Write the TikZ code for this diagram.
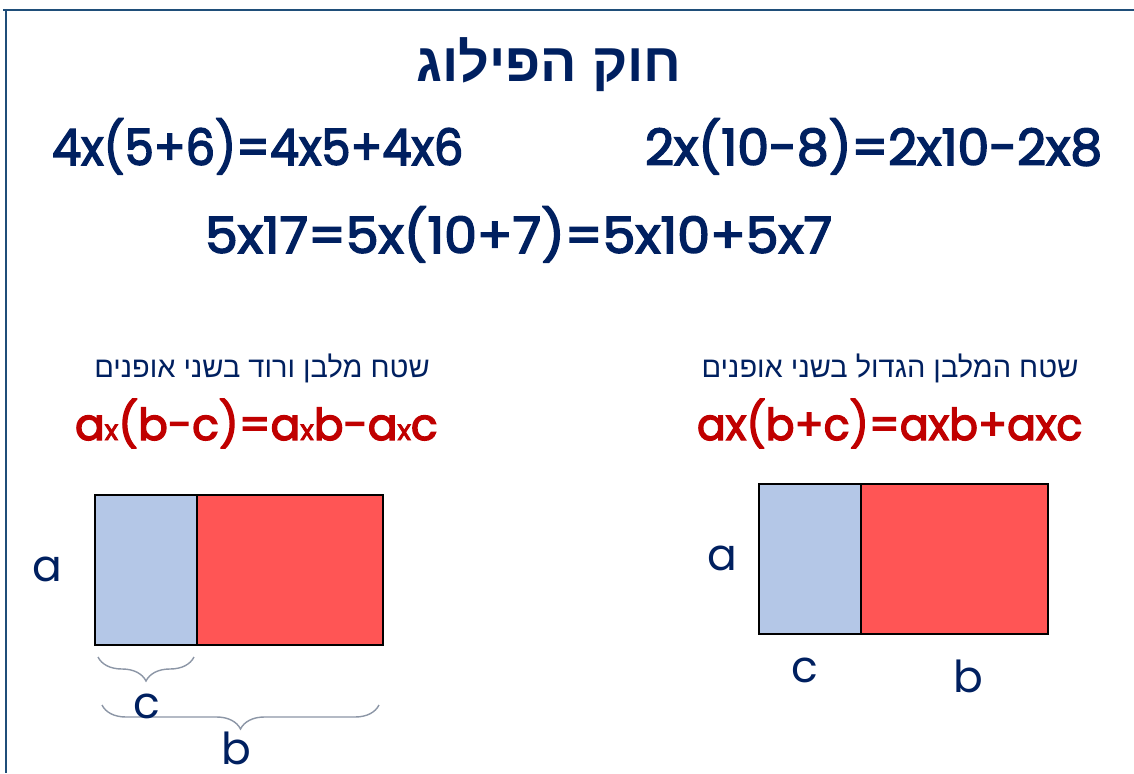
\documentclass[tikz,border=0pt]{standalone}
\usepackage{fontspec}
\setmainfont{Poppins}
\newfontfamily\eqfont[FakeBold=3]{Poppins}
\newfontfamily\hebfont[Script=Hebrew]{Liberation Sans}
\TeXXeTstate=1
\usetikzlibrary{decorations.pathreplacing}
\definecolor{navy}{RGB}{0,32,96}
\definecolor{dred}{RGB}{192,0,0}
\definecolor{framec}{RGB}{31,78,121}
\definecolor{lblue}{RGB}{180,199,231}
\definecolor{lred}{RGB}{255,85,85}
\definecolor{bracegray}{RGB}{140,150,166}
\newcommand{\sx}{{\fontsize{28}{30}\selectfont x}}
\begin{document}
\begin{tikzpicture}[x=1pt,y=-1pt,
  txt/.style={inner sep=0pt, outer sep=0pt},
  title/.style={txt, text=navy, font=\hebfont\bfseries\fontsize{54}{60}\selectfont},
  eq/.style={txt, text=navy, font=\eqfont\fontsize{50}{60}\selectfont},
  sub/.style={txt, text=navy, font=\hebfont\fontsize{29}{34}\selectfont},
  redeq/.style={txt, text=dred, font=\eqfont\fontsize{44}{50}\selectfont},
  lbl/.style={txt, text=navy, font=\fontsize{44}{50}\selectfont},
  boxc/.style={draw=black, line width=2pt, fill=lblue},
  boxb/.style={draw=black, line width=2pt, fill=lred},
  brc/.style={draw=bracegray, line width=1.4pt, decorate, decoration={brace, mirror, amplitude=24pt, aspect=0.5}},
  framel/.style={draw=framec, line width=2.5pt}
]
\useasboundingbox (0,0) rectangle (1134,773);
\fill[white] (0,0) rectangle (1134,773);
\draw[framel] (3,10) -- (1134,10);
\draw[framel] (6,10) -- (6,773);

\node[title, anchor=base] (title) at (549,82) {\beginR חוק הפילוג\endR};

\node[eq, anchor=base west] (eq1) at (52,165) {\scalebox{0.93}[1]{4x(5+6)=4x5+4x6}};
\node[eq, anchor=base west] (eq2) at (645,165) {\scalebox{1.01}[1]{2x(10-8)=2x10-2x8}};
\node[eq, anchor=base west] (eq3) at (205,253) {\scalebox{1.045}[1]{5x17=5x(10+7)=5x10+5x7}};

\node[sub, anchor=base] (subL) at (262,377) {\beginR שטח מלבן ורוד בשני אופנים\endR};
\node[sub, anchor=base] (subR) at (890,377) {\beginR שטח המלבן הגדול בשני אופנים\endR};

\node[redeq, anchor=base west] (redL) at (75,440) {a\sx(b-c)=a\sx b-a\sx c};
\node[redeq, anchor=base west] (redR) at (697,440) {\scalebox{0.97}[1]{ax(b+c)=axb+axc}};

% left rectangle
\node[boxc, minimum width=102pt, minimum height=150pt, inner sep=0pt, anchor=north west] (lc) at (94,494) {};
\node[boxb, minimum width=186pt, minimum height=150pt, inner sep=0pt, anchor=north west] (lb) at (196,494) {};
\node[lbl, anchor=base] (la) at (47,581) {a};
\coordinate (bc1) at (98,657);
\coordinate (bc2) at (194,657);
\coordinate (bb1) at (102,705);
\coordinate (bb2) at (379,705);
\draw[brc] (bc1) -- (bc2);
\draw[brc] (bb1) -- (bb2);
\node[lbl, anchor=base] (lcl) at (147,718) {c};
\node[lbl, anchor=base] (lbl) at (236,764) {b};

% right rectangle
\node[boxc, minimum width=102pt, minimum height=150pt, inner sep=0pt, anchor=north west] (rc) at (758,483) {};
\node[boxb, minimum width=187pt, minimum height=150pt, inner sep=0pt, anchor=north west] (rb) at (860,483) {};
\node[lbl, anchor=base] (ra) at (722,570) {a};
\node[lbl, anchor=base] (rcl) at (805,682) {c};
\node[lbl, anchor=base] (rbl) at (968,692) {b};
\end{tikzpicture}
\end{document}
